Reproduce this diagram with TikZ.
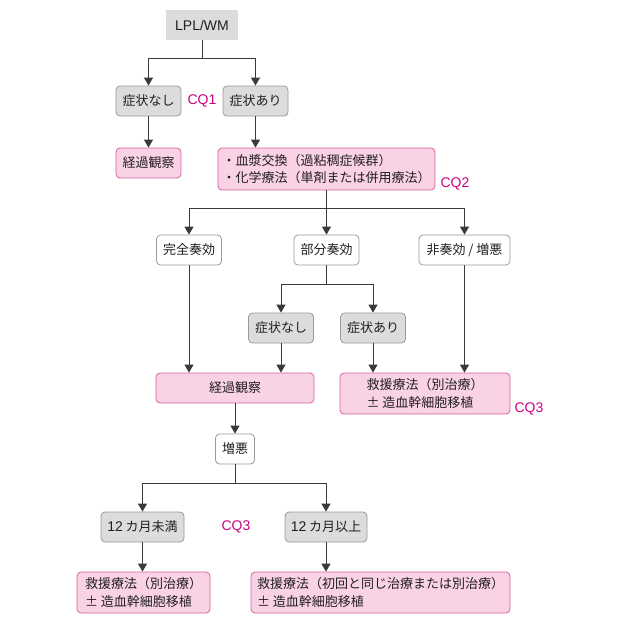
\documentclass[tikz,border=0pt]{standalone}
\usepackage{fontspec}
\setmainfont{Noto Sans CJK JP}
\newfontfamily\lat{Liberation Sans}
\usetikzlibrary{arrows.meta}
\definecolor{linec}{HTML}{3A3A3A}
\definecolor{grayfill}{HTML}{DCDCDC}
\definecolor{graydraw}{HTML}{9A9A9A}
\definecolor{pinkfill}{HTML}{F9D3E5}
\definecolor{pinkdraw}{HTML}{D9609E}
\definecolor{cqc}{HTML}{CC0080}
\definecolor{txt}{HTML}{231F20}
\tikzset{
  base/.style={inner sep=0pt, text=txt, font=\fontsize{13}{17.5}\selectfont, rounded corners=4pt, line width=0.8pt},
  graybox/.style={base, fill=grayfill, draw=graydraw},
  pinkbox/.style={base, fill=pinkfill, draw=pinkdraw},
  whitebox/.style={base, fill=white, draw=graydraw},
  topbox/.style={base, fill=grayfill, rounded corners=0pt, font=\lat\fontsize{14}{17}\selectfont},
  cq/.style={text=cqc, font=\lat\fontsize{14}{17}\selectfont, inner sep=0pt},
  conn/.style={draw=linec, line width=1pt},
  arr/.style={conn, -{Triangle[length=8pt,width=9pt]}},
}
\begin{document}
\begin{tikzpicture}[x=1pt,y=-1pt]
\useasboundingbox (0,0) rectangle (625,626);
% nodes
\node[topbox, minimum width=72pt, minimum height=30pt] (lpl) at (202,25) {LPL/WM};
\node[graybox, minimum width=65pt, minimum height=30pt] (s1) at (148.5,101) {症状なし};
\node[cq] (cq1) at (202,101) {CQ1};
\node[graybox, minimum width=65pt, minimum height=30pt] (s2) at (255.5,101) {症状あり};
\node[pinkbox, minimum width=65pt, minimum height=30pt] (k1) at (148.5,163) {経過観察};
\node[pinkbox, minimum width=217pt, minimum height=42pt, align=left] (tr) at (326.5,169) {・血漿交換（過粘稠症候群）\\・化学療法（単剤または併用療法）};
\node[cq] (cq2) at (455,184) {CQ2};
\node[whitebox, minimum width=65pt, minimum height=30pt] (cr) at (189,250) {完全奏効};
\node[whitebox, minimum width=65pt, minimum height=30pt] (pr) at (326.5,250) {部分奏効};
\node[whitebox, minimum width=91pt, minimum height=30pt] (nr) at (464.5,250) {非奏効 / 増悪};
\node[graybox, minimum width=65pt, minimum height=30pt] (s3) at (281,328) {症状なし};
\node[graybox, minimum width=65pt, minimum height=30pt] (s4) at (373,328) {症状あり};
\node[pinkbox, minimum width=158pt, minimum height=30pt] (k2) at (235,388) {経過観察};
\node[pinkbox, minimum width=170pt, minimum height=41pt, align=left] (sv1) at (425,393.5) {救援療法（別治療）\\± 造血幹細胞移植};
\node[cq] (cq3a) at (529,409) {CQ3};
\node[whitebox, minimum width=39pt, minimum height=30pt] (pd) at (235,449) {増悪};
\node[graybox, minimum width=83pt, minimum height=30pt] (m1) at (142.5,527) {{\lat\fontsize{14}{17}\selectfont 12} カ月未満};
\node[cq] (cq3b) at (236,526.5) {CQ3};
\node[graybox, minimum width=82pt, minimum height=30pt] (m2) at (326,527) {{\lat\fontsize{14}{17}\selectfont 12} カ月以上};
\node[pinkbox, minimum width=133pt, minimum height=41pt, align=left] (sv2) at (143.5,592.5) {救援療法（別治療）\\± 造血幹細胞移植};
\node[pinkbox, minimum width=259pt, minimum height=41pt, align=left] (sv3) at (380.5,592.5) {救援療法（初回と同じ治療または別治療）\\± 造血幹細胞移植};
% connectors
\coordinate (f1) at (202,59);
\draw[conn] (lpl.south) -- (f1);
\draw[arr] (f1) -| (s1.north);
\draw[arr] (f1) -| (s2.north);
\draw[arr] (s1) -- (k1);
\draw[arr] (s2) -- (s2 |- tr.north);
\coordinate (f2) at (326.5,208);
\draw[conn] (tr.south) -- (f2);
\draw[arr] (f2) -| (cr.north);
\draw[arr] (f2) -- (pr.north);
\draw[arr] (f2) -| (nr.north);
\coordinate (f3) at (326.5,284);
\draw[conn] (pr.south) -- (f3);
\draw[arr] (f3) -| (s3.north);
\draw[arr] (f3) -| (s4.north);
\draw[arr] (cr.south) -- (cr.south |- k2.north);
\draw[arr] (s3.south) -- (s3.south |- k2.north);
\draw[arr] (s4.south) -- (s4.south |- sv1.north);
\draw[arr] (nr.south) -- (nr.south |- sv1.north);
\draw[arr] (k2.south) -- (pd.north);
\coordinate (f4) at (235,483);
\draw[conn] (pd.south) -- (f4);
\draw[arr] (f4) -| (m1.north);
\draw[arr] (f4) -| (m2.north);
\draw[arr] (m1.south) -- (m1.south |- sv2.north);
\draw[arr] (m2.south) -- (m2.south |- sv3.north);
\end{tikzpicture}
\end{document}
